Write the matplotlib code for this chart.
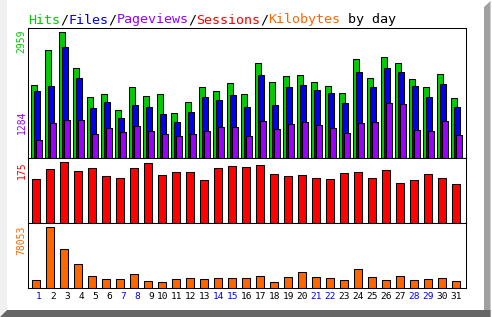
import matplotlib
matplotlib.use("Agg")
import matplotlib.pyplot as plt
from matplotlib.patches import Polygon
import numpy as np

days = list(range(1, 32))
weekend = [1, 7, 8, 14, 15, 21, 22, 28, 29]

hits = [1711, 2535, 2959, 2111, 1429, 1499, 1122, 1664, 1452, 1499, 1052, 1311, 1664, 1570, 1758, 1499,
        2229, 1782, 1923, 1947, 1782, 1688, 1523, 2323, 1876, 2370, 2229, 1852, 1664, 1970, 1405]
files = [1570, 1688, 2606, 1876, 1170, 1311, 934, 1240, 1193, 1028, 840, 1075, 1429, 1358, 1476, 1193,
         1947, 1240, 1664, 1711, 1593, 1523, 1287, 2017, 1664, 2111, 2017, 1688, 1429, 1735, 1193]
pages = [416, 816, 887, 887, 557, 699, 604, 746, 628, 557, 510, 557, 628, 722, 722, 510,
         863, 675, 793, 840, 769, 699, 581, 816, 840, 1284, 1260, 651, 628, 863, 534]
sessions = [126, 155, 175, 149, 158, 135, 129, 158, 172, 138, 146, 146, 123, 158, 164, 161,
            166, 141, 135, 138, 129, 126, 143, 146, 129, 152, 115, 123, 141, 129, 112]
kbytes = [10237, 78053, 49904, 30710, 15355, 11516, 11516, 17914, 8957, 7677, 11516, 12796, 11516,
          12796, 12796, 12796, 15355, 7677, 14075, 20473, 14075, 12796, 10237, 24311, 14075, 10237,
          15355, 10237, 11516, 12796, 8957]

c_hits = '#00cc00'
c_files = '#0000ee'
c_pages = '#9900ff'
c_sess = '#ff0000'
c_kb = '#ff6600'

W, H = 492, 317
fig = plt.figure(figsize=(W / 100, H / 100), dpi=100)
fig.patch.set_facecolor('white')


def fx(px):
    return px / W


def fy(py):
    return 1 - py / H


# shadow frame
fig.patches.append(Polygon([(fx(0), fy(0)), (fx(7), fy(0)), (fx(7), fy(310)), (fx(0), fy(317))],
                           closed=True, transform=fig.transFigure, facecolor='#f0f0f0', edgecolor='none'))
fig.patches.append(Polygon([(fx(484), fy(7)), (fx(490.5), fy(1)), (fx(490.5), fy(317)), (fx(484), fy(317))],
                           closed=True, transform=fig.transFigure, facecolor='#a0a0a0', edgecolor='none'))
fig.patches.append(Polygon([(fx(0), fy(317)), (fx(7), fy(310)), (fx(490.5), fy(310)), (fx(490.5), fy(317))],
                           closed=True, transform=fig.transFigure, facecolor='#666666', edgecolor='none'))

left, right = 28.3, 465.7
slot = 14.0
nslot = (right - left) / slot
lw = 0.75


def make_ax(top, bottom):
    ax = fig.add_axes([fx(left), fy(bottom), (right - left) / W, (bottom - top) / H])
    ax.set_xlim(0, nslot)
    ax.set_xticks([])
    ax.set_yticks([])
    ax.set_facecolor('white')
    for s in ax.spines.values():
        s.set_linewidth(lw)
    return ax


x = np.array(days) - 1

ax1 = make_ax(28.3, 158)
ax1.set_ylim(0, 2959 * 129.7 / 125.7)
ax1.bar(x + 3 / slot, hits, width=6 / slot, align='edge', color=c_hits, edgecolor='black', linewidth=lw)
ax1.bar(x + 6 / slot, files, width=6 / slot, align='edge', color=c_files, edgecolor='black', linewidth=lw)
ax1.bar(x + 8 / slot, pages, width=6 / slot, align='edge', color=c_pages, edgecolor='black', linewidth=lw)

ax2 = make_ax(158, 223.3)
ax2.set_ylim(0, 175 * 65.3 / 61)
ax2.bar(x + 3.7 / slot, sessions, width=8.3 / slot, align='edge', color=c_sess, edgecolor='black', linewidth=lw)

ax3 = make_ax(223.3, 288.3)
ax3.set_ylim(0, 78053 * 65 / 61)
ax3.bar(x + 3.7 / slot, kbytes, width=8.3 / slot, align='edge', color=c_kb, edgecolor='black', linewidth=lw)

mono = 'DejaVu Sans Mono'

# day labels
for d in days:
    cx = (d - 1) + (3.7 + 4.15) / slot
    if d < 10:
        cx += 2.8 / slot
    ax3.text(cx, -0.13, str(d), transform=ax3.get_xaxis_transform(), ha='center', va='center',
             fontsize=6.8, family=mono, color='#0000ff' if d in weekend else 'black')

# max labels
for txt, py, col in [('2959', 41, c_hits), ('1284', 122.5, c_pages),
                     ('175', 169.7, c_sess), ('78053', 240, c_kb)]:
    fig.text(fx(21.7), fy(py), txt, rotation=90, ha='center', va='center',
             fontsize=7, family=mono, color=col)

# title
parts = [('Hits', c_hits), ('/', 'black'), ('Files', c_files), ('/', 'black'),
         ('Pageviews', c_pages), ('/', 'black'), ('Sessions', c_sess), ('/', 'black'),
         ('Kilobytes', c_kb), (' by day', 'black')]
pos = 0
for s, col in parts:
    fig.text(fx(28.3 + pos * 8.0), fy(23.5), s, ha='left', va='baseline',
             fontsize=9.6, family=mono, color=col)
    pos += len(s)

plt.savefig('out.png', dpi=100)
